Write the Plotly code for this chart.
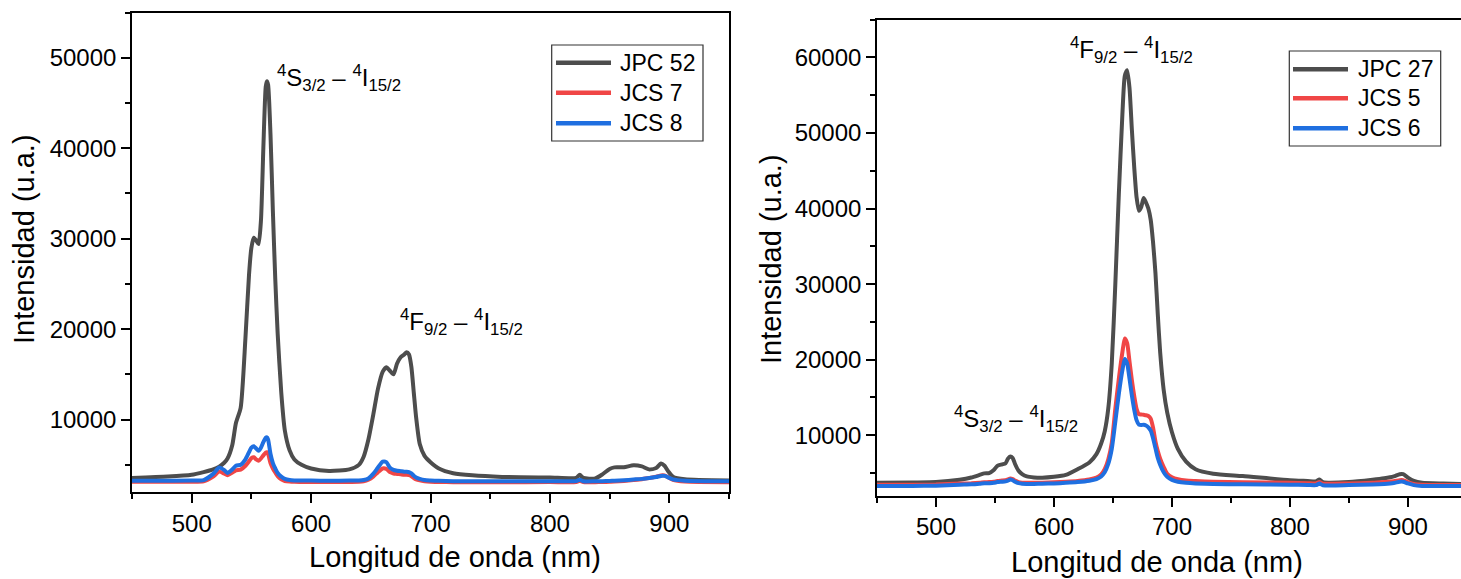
import plotly.graph_objects as go

W, H = 1461, 579

# ---------------- Panel A: JPC 52, JCS 7, JCS 8 ----------------
wl_a = [450, 480, 500, 510, 518, 523, 527, 530, 534, 537, 541, 545, 548, 550,
        552, 554, 556, 558, 560, 562, 563, 564, 566, 568, 570, 572, 575, 578,
        582, 586, 592, 600, 615, 632, 640, 644, 648, 652, 656, 660, 663, 666,
        669, 672, 675, 678, 680, 682, 684, 686, 688, 691, 695, 700, 707, 719,
        735, 760, 800, 822, 825, 828, 838, 844, 850, 854, 862, 870, 877, 883,
        889, 893, 896, 899, 903, 913, 950]

jpc52 = [3550, 3700, 3900, 4200, 4500, 4800, 5200, 5700, 7200, 9600, 11300,
         19000, 26000, 29000, 30100, 29800, 29400, 32000, 40000, 46800, 47400,
         47000, 41500, 33000, 25500, 19500, 13000, 8800, 6600, 5600, 5000, 4600,
         4330, 4500, 5000, 5900, 7800, 10500, 13400, 15300, 15800, 15400, 15000,
         16200, 16900, 17200, 17450, 17200, 15800, 13000, 10200, 7300, 6000,
         5300, 4600, 4080, 3840, 3670, 3600, 3560, 3900, 3550, 3500, 3950, 4550,
         4720, 4730, 4950, 4830, 4500, 4650, 5150, 4900, 4300, 3700, 3400, 3270]

jcs7 = [3120, 3120, 3130, 3180, 3700, 4250, 4050, 3850, 4150, 4400, 4480,
        4900, 5400, 5750, 5850, 5600, 5450, 5700, 6050, 6350, 6400, 6200, 5200,
        4600, 4150, 3750, 3400, 3220, 3150, 3120, 3110, 3100, 3100, 3110, 3120,
        3170, 3350, 3700, 4200, 4600, 4550, 4200, 4050, 4000, 3950, 3900, 3900,
        3870, 3750, 3550, 3400, 3280, 3180, 3120, 3100, 3090, 3080, 3080, 3100,
        3100, 3250, 3090, 3090, 3100, 3130, 3150, 3220, 3320, 3420, 3550, 3680,
        3830, 3820, 3620, 3350, 3150, 3080]

jcs8 = [3250, 3250, 3260, 3320, 4000, 4700, 4450, 4100, 4500, 4900, 5000,
        5600, 6400, 6900, 7050, 6800, 6550, 6900, 7500, 8000, 8050, 7800, 6200,
        5200, 4600, 4100, 3700, 3450, 3320, 3280, 3270, 3260, 3250, 3260, 3270,
        3320, 3500, 4000, 4700, 5350, 5300, 4700, 4450, 4350, 4300, 4250, 4250,
        4200, 4050, 3800, 3600, 3450, 3320, 3270, 3230, 3200, 3190, 3180, 3200,
        3200, 3350, 3180, 3180, 3190, 3220, 3240, 3300, 3380, 3450, 3550, 3650,
        3780, 3780, 3620, 3400, 3250, 3180]

# ---------------- Panel B: JPC 27, JCS 5, JCS 6 ----------------
wl_b = [450, 480, 500, 520, 530, 537, 541, 545, 549, 552, 556, 559, 561, 563,
        565, 567, 570, 573, 577, 583, 590, 600, 610, 620, 630, 636, 640, 643,
        646, 649, 652, 655, 658, 660, 662, 664, 666, 668, 670, 672, 674, 676,
        678, 680, 682, 684, 686, 688, 690, 693, 696, 700, 705, 712, 720, 735,
        760, 800, 815, 822, 825, 828, 850, 870, 880, 888, 893, 896, 900, 905,
        912, 930, 945]

jpc27 = [3700, 3750, 3800, 4100, 4400, 4750, 4950, 5000, 5400, 5950, 6150,
         6300, 6900, 7200, 7000, 6200, 5300, 4850, 4550, 4420, 4380, 4500, 4750,
         5500, 6400, 7500, 8900, 10500, 13500, 19500, 30000, 42000, 52500,
         57500, 58300, 56000, 50500, 45500, 41500, 39700, 40200, 41400, 40800,
         40000, 38500, 35500, 31500, 26000, 21000, 16000, 13000, 10400, 8200,
         6500, 5500, 4900, 4600, 4050, 3950, 3900, 4150, 3800, 3800, 4100, 4300,
         4550, 4850, 4850, 4400, 3950, 3700, 3600, 3550]

jcs5 = [3450, 3450, 3480, 3600, 3650, 3720, 3780, 3800, 3850, 3950, 4000,
        4050, 4150, 4280, 4200, 4000, 3800, 3720, 3700, 3700, 3720, 3780, 3850,
        3950, 4150, 4400, 4800, 5500, 6800, 9000, 13500, 17500, 21000, 22800,
        22200, 19800, 17300, 15200, 13500, 12800, 12750, 12700, 12650, 12550,
        12200, 11000, 9200, 7900, 6900, 5800, 4900, 4450, 4180, 4000, 3940,
        3850, 3780, 3700, 3650, 3620, 3800, 3600, 3620, 3700, 3800, 3900, 4050,
        4050, 3800, 3550, 3450, 3420, 3420]

jcs6 = [3300, 3300, 3330, 3450, 3500, 3580, 3640, 3660, 3700, 3800, 3850,
        3900, 4000, 4130, 4050, 3850, 3660, 3580, 3560, 3560, 3580, 3630, 3700,
        3800, 3980, 4200, 4550, 5100, 6200, 8200, 11800, 15500, 18600, 20100,
        19500, 17500, 15300, 13400, 12000, 11400, 11350, 11400, 11300, 11050,
        10600, 9600, 8300, 7000, 6100, 5100, 4500, 4100, 3850, 3700, 3620, 3560,
        3500, 3450, 3420, 3400, 3600, 3380, 3400, 3480, 3560, 3680, 3850, 3850,
        3620, 3400, 3300, 3280, 3280]

names_a = ["JPC 52", "JCS 7", "JCS 8"]
names_b = ["JPC 27", "JCS 5", "JCS 6"]
colors = ["#4d4d4d", "#f04646", "#1f6fe0"]

x_ticks = [500, 600, 700, 800, 900]
y_ticks_a = [10000, 20000, 30000, 40000, 50000]
y_ticks_b = [10000, 20000, 30000, 40000, 50000, 60000]

FONT = "Liberation Sans, Arial, sans-serif"


def fx(px):
    return px / W


def fy(py):
    return 1 - py / H


fig = go.Figure()

for ys, name, col in zip([jpc52, jcs7, jcs8], names_a, colors):
    fig.add_trace(go.Scatter(x=wl_a, y=ys, name=name, mode="lines",
                             line=dict(color=col, width=4, shape="spline", smoothing=0.6),
                             xaxis="x", yaxis="y", showlegend=False))

for ys, name, col in zip([jpc27, jcs5, jcs6], names_b, colors):
    fig.add_trace(go.Scatter(x=wl_b, y=ys, name=name, mode="lines",
                             line=dict(color=col, width=4, shape="spline", smoothing=0.6),
                             xaxis="x2", yaxis="y2", showlegend=False))

axis_common = dict(showline=True, linecolor="black", linewidth=1.6,
                   ticks="outside", ticklen=9, tickwidth=1.6, tickcolor="black",
                   showgrid=False, zeroline=False,
                   tickfont=dict(family=FONT, size=24, color="black"))

fig.update_layout(
    width=W, height=H,
    margin=dict(l=0, r=0, t=0, b=0),
    paper_bgcolor="white", plot_bgcolor="white",
    font=dict(family=FONT, color="black"),
    xaxis=dict(domain=[fx(132), fx(729)], range=[450, 950], tickvals=x_ticks,
               mirror=True, anchor="y",
               minor=dict(ticks="outside", ticklen=5, tickwidth=1.6, dtick=50, tick0=450,
                          tickcolor="black"),
               **axis_common),
    yaxis=dict(domain=[fy(492), fy(12.5)], range=[2000, 55000], tickvals=y_ticks_a,
               tickformat="d", mirror=True, anchor="x",
               minor=dict(ticks="outside", ticklen=5, tickwidth=1.6, dtick=5000, tick0=0,
                          tickcolor="black"),
               **axis_common),
    xaxis2=dict(domain=[fx(877), 1.0], range=[450, 945], tickvals=x_ticks,
                mirror=True, anchor="y2",
                minor=dict(ticks="outside", ticklen=5, tickwidth=1.6, dtick=50, tick0=450,
                           tickcolor="black"),
                **axis_common),
    yaxis2=dict(domain=[fy(495.7), fy(19.6)], range=[2000, 65000], tickvals=y_ticks_b,
                tickformat="d", mirror=False, anchor="x2",
                minor=dict(ticks="outside", ticklen=5, tickwidth=1.6, dtick=5000, tick0=0,
                           tickcolor="black"),
                **axis_common),
)

ann = []
# axis titles
for text, x, y, ang in [("Longitud de onda (nm)", 455, 557, 0),
                        ("Longitud de onda (nm)", 1157, 562, 0),
                        ("Intensidad (u.a.)", 24, 239, -90),
                        ("Intensidad (u.a.)", 771, 259, -90)]:
    ann.append(dict(text=text, x=fx(x), y=fy(y), xref="paper", yref="paper",
                    xanchor="center", yanchor="middle", textangle=ang,
                    showarrow=False, font=dict(size=29)))

# transition labels
S_LBL = "<sup>4</sup>S<sub>3/2</sub> \u2013 <sup>4</sup>I<sub>15/2</sub>"
F_LBL = "<sup>4</sup>F<sub>9/2</sub> \u2013 <sup>4</sup>I<sub>15/2</sub>"
for text, x0, yc in [(S_LBL, 275, 78), (F_LBL, 398, 322), (F_LBL, 1068, 50), (S_LBL, 952, 419)]:
    ann.append(dict(text=text, x=fx(x0), y=fy(yc), xref="paper", yref="paper",
                    xanchor="left", yanchor="middle", showarrow=False, font=dict(size=24)))

# legend boxes
shapes = []
legends = [
    (names_a, (551.7, 45, 703, 141), (556, 611), [62.7, 92.7, 123.3], 618),
    (names_b, (1289.3, 51, 1440.7, 146), (1293, 1348), [69.3, 98.3, 128.3], 1356),
]
for names, (bx0, by0, bx1, by1), (lx0, lx1), rows, tx in legends:
    shapes.append(dict(type="rect", xref="paper", yref="paper",
                       x0=fx(bx0), x1=fx(bx1), y0=fy(by1), y1=fy(by0),
                       line=dict(color="#333333", width=1.2), fillcolor="white", layer="above"))
    for name, col, ry in zip(names, colors, rows):
        shapes.append(dict(type="line", xref="paper", yref="paper",
                           x0=fx(lx0), x1=fx(lx1), y0=fy(ry), y1=fy(ry),
                           line=dict(color=col, width=4.5), layer="above"))
        ann.append(dict(text=name, x=fx(tx), y=fy(ry), xref="paper", yref="paper",
                        xanchor="left", yanchor="middle", showarrow=False,
                        font=dict(size=23)))

fig.update_layout(annotations=ann, shapes=shapes)

fig.write_html("out.html")
